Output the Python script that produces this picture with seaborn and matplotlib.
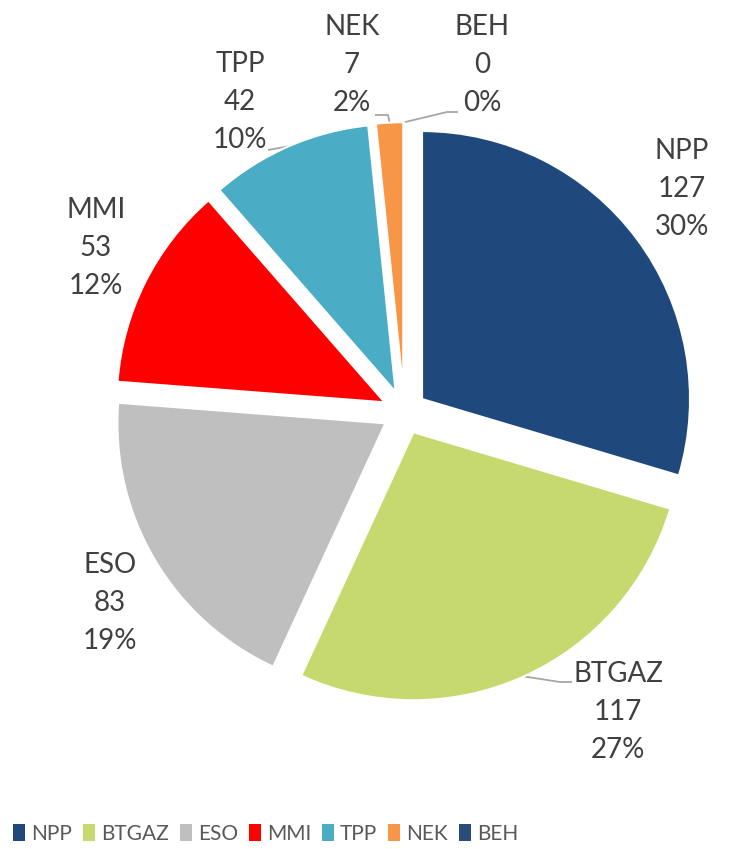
"""
Pie chart of the count per company, exploded slices, labels outside.
Run: python plot.py
"""

import numpy as np
import matplotlib
matplotlib.use("Agg")
import matplotlib.pyplot as plt
from matplotlib.patches import Patch
import seaborn as sns

# ── Data ───────────────────────────────────────────
categories = ["NPP", "BTGAZ", "ESO", "MMI", "TPP", "NEK", "BEH"]
values     = [127, 117, 83, 53, 42, 7, 0]
colors     = ["#1F497D", "#C6D96F", "#BFBFBF", "#FF0000",
              "#4BACC6", "#F79646", "#2B4C78"]

# ── Layout (pixels, image coords: y grows downward) ─
W, H       = 754, 849
CENTER     = (404.4, 412.2)
RADIUS     = 268
EXPLODE    = 22          # data units (= pixels here)
label_pos  = {
    "NPP":   (682, 189),
    "BTGAZ": (618, 712),
    "ESO":   (110, 603),
    "MMI":   (96, 248),
    "TPP":   (240, 102),
    "NEK":   (352, 65),
    "BEH":   (482, 65),
}
# extra points of the leader line after the slice edge
leaders = {
    "BTGAZ": [(560, 682), (572, 682)],
    "TPP":   [(268, 150)],
    "NEK":   [(388, 115), (375, 115)],
    "BEH":   [(447, 112), (458, 112)],
}


def to_data(p):
    return (p[0], H - p[1])


def main():
    sns.set_theme(style="white")
    plt.rcParams["font.family"] = ["Lato", "DejaVu Sans"]

    fig = plt.figure(figsize=(W / 100, H / 100), dpi=100)
    ax = fig.add_axes([0, 0, 1, 1])

    cx, cy = to_data(CENTER)
    wedges, _ = ax.pie(
        values,
        colors=colors,
        startangle=90,
        counterclock=False,
        center=(cx, cy),
        radius=RADIUS,
        explode=[EXPLODE] * len(values),
        wedgeprops=dict(edgecolor="white", linewidth=1.5),
    )
    ax.set_xlim(0, W)
    ax.set_ylim(0, H)
    ax.set_aspect("equal")
    ax.axis("off")

    total = sum(values)
    text_color = "#404040"
    for w, cat, val in zip(wedges, categories, values):
        pct = 100 * val / total
        lx, ly = to_data(label_pos[cat])
        ax.text(lx, ly, f"{cat}\n{val}\n{pct:.0f}%",
                ha="center", va="center", multialignment="center",
                fontsize=20, color=text_color, linespacing=1.55)

        if cat in leaders:
            mid = np.deg2rad((w.theta1 + w.theta2) / 2)
            wx, wy = w.center
            sx = wx + w.r * np.cos(mid)
            sy = wy + w.r * np.sin(mid)
            pts = [(sx, sy)] + [to_data(p) for p in leaders[cat]]
            xs, ys = zip(*pts)
            ax.plot(xs, ys, color="#A6A6A6", lw=1.3,
                    solid_capstyle="butt", zorder=0)

    # ── Legend ─────────────────────────────────────
    fs = 15
    px = fs * 100 / 72
    handles = [Patch(facecolor=c, edgecolor="none") for c in colors]
    fig.legend(
        handles, categories,
        loc="center left",
        bbox_to_anchor=(13 / W, 1 - 834 / H),
        ncol=len(categories),
        frameon=False,
        prop=dict(family=["Lato", "DejaVu Sans"], size=fs),
        labelcolor="#595959",
        handlelength=12 / px, handleheight=18 / px,
        handletextpad=6 / px, columnspacing=11 / px,
        borderpad=0, borderaxespad=0,
    )

    fig.savefig("out.png", dpi=100)
    plt.close(fig)


if __name__ == "__main__":
    main()
